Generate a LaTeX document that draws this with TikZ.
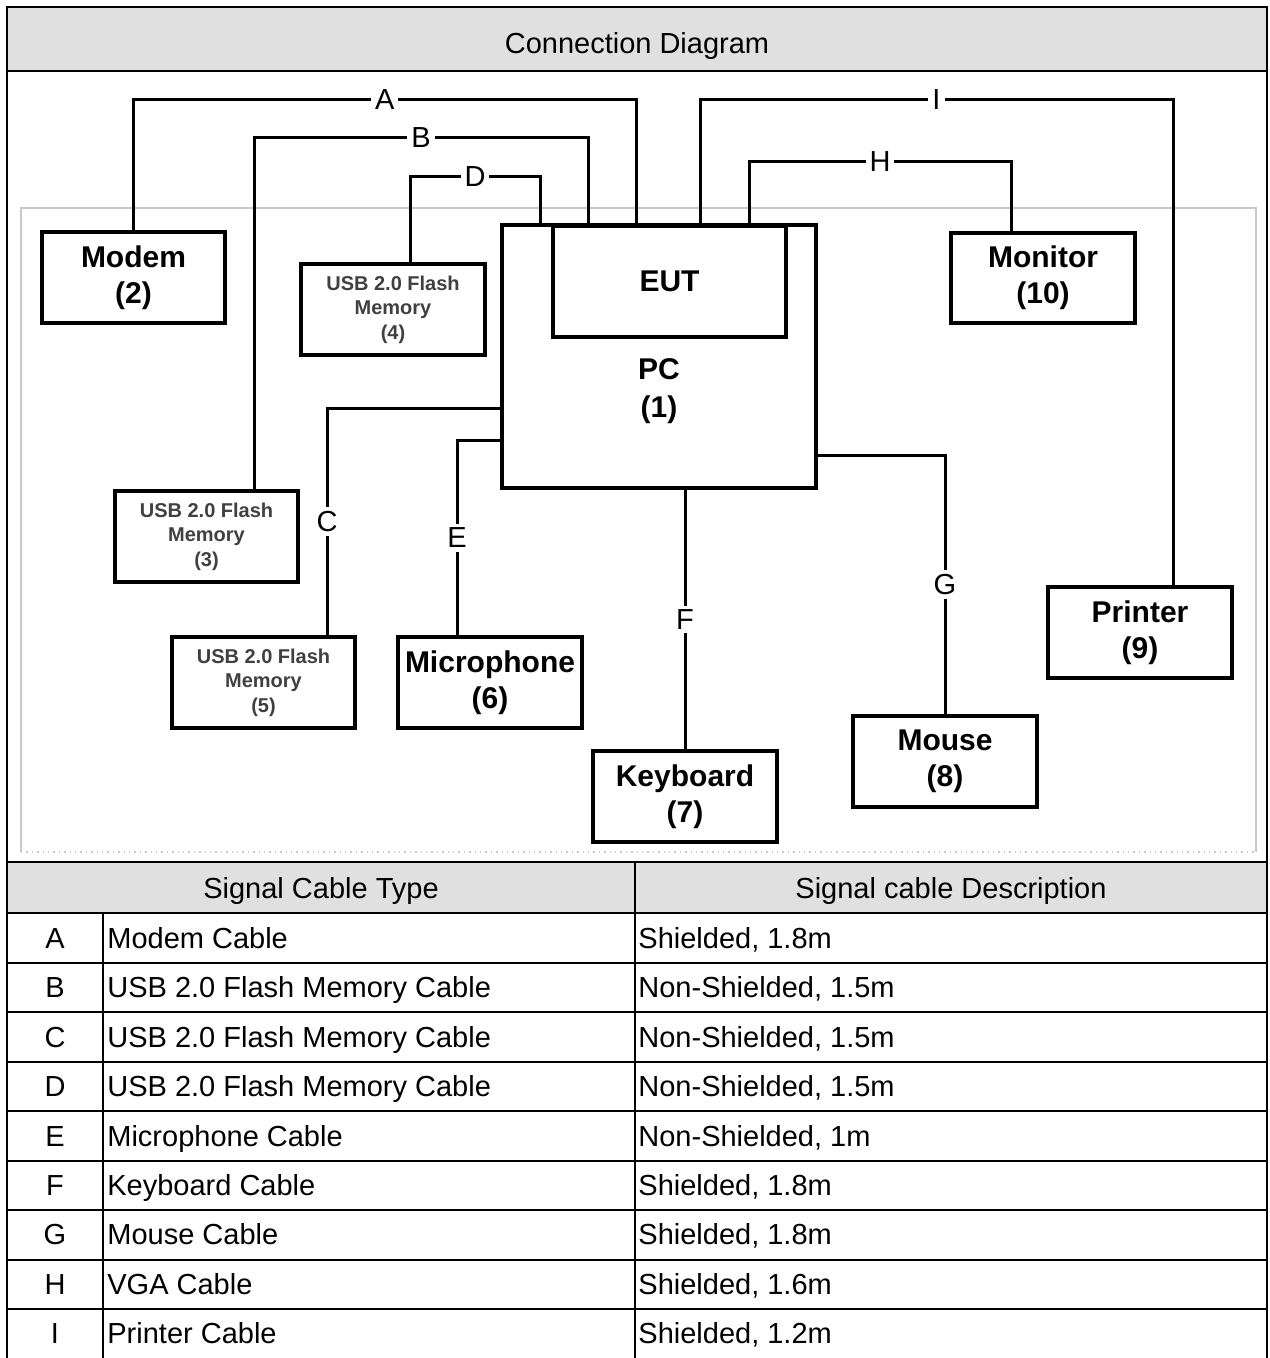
\documentclass[tikz,border=0pt]{standalone}
\usepackage{fontspec}
\setmainfont{Liberation Sans}
\definecolor{hdr}{HTML}{E0E0E0}
\definecolor{innerframe}{HTML}{C8C8C8}
\definecolor{usbtext}{HTML}{404040}
\begin{document}
\begin{tikzpicture}[x=0.5pt,y=-0.5pt,
  dev/.style={draw=black, line width=1.9pt, fill=white, inner sep=0pt, align=center,
    minimum width=92pt, minimum height=45.5pt,
    font=\fontsize{15}{18}\selectfont\bfseries},
  usb/.style={dev, text=usbtext, font=\fontsize{10}{12.25}\selectfont\bfseries},
  wire/.style={line width=1.5pt, draw=black},
  lab/.style={fill=white, inner sep=2pt, font=\fontsize{14.5}{16}\selectfont},
  tline/.style={line width=1pt, draw=black},
  ttext/.style={font=\fontsize{14.5}{16}\selectfont, inner sep=0pt, anchor=base},
  ttextw/.style={ttext, anchor=base west}]
\useasboundingbox (0,0) rectangle (1269,1358);
% title band and header band
\fill[hdr] (7,7) rectangle (1267,71);
\fill[hdr] (7,862) rectangle (1267,913);
\node[ttext] (title) at (637,54) {Connection Diagram};
% inner light frame
\draw[innerframe, line width=0.7pt] (21,852) -- (21,208) -- (1256,208) -- (1256,852);
\draw[innerframe, line width=0.7pt, dotted] (21,852) -- (1256,852);
% devices
\node[dev, minimum width=157pt, minimum height=131.5pt] (pc) at (659,356.5) {};
\node[dev, minimum width=116.5pt, minimum height=55.5pt] (eut) at (669.5,281.5) {EUT};
\node[inner sep=0pt, align=center, font=\fontsize{15}{19}\selectfont\bfseries] (pct) at (659,391) {PC\\(1)};
\node[dev, minimum width=91.5pt] (modem) at (133.5,277.5) {Modem\\(2)};
\node[usb] (usb4) at (393,309.5) {USB 2.0 Flash\\Memory\\(4)};
\node[dev, minimum height=45pt] (monitor) at (1043,278) {Monitor\\(10)};
\node[usb, minimum width=91.5pt] (usb3) at (206.5,536.5) {USB 2.0 Flash\\Memory\\(3)};
\node[usb, minimum width=91.5pt] (usb5) at (263.5,682.5) {USB 2.0 Flash\\Memory\\(5)};
\node[dev] (mic) at (490,682.5) {Microphone\\(6)};
\node[dev] (kbd) at (685,796.5) {Keyboard\\(7)};
\node[dev] (mouse) at (945,761.5) {Mouse\\(8)};
\node[dev] (printer) at (1140,632.5) {Printer\\(9)};
% routing points
\coordinate (a2) at (636,100);
\coordinate (b1) at (254,138);
\coordinate (b2) at (588,138);
\coordinate (d1) at (410,177);
\coordinate (d2) at (540,177);
\coordinate (i1) at (700,100);
\coordinate (i2) at (1173,100);
\coordinate (h1) at (749,162);
\coordinate (h2) at (1011,162);
\coordinate (c1) at (327,408);
\coordinate (e1) at (457,440);
\coordinate (g1) at (944,455);
% cables
\draw[wire] (modem.north) |- node[lab,pos=0.75]{A} (a2) -- (a2 |- pc.north);
\draw[wire] (usb3.north -| b1) |- node[lab,pos=0.75]{B} (b2) -- (b2 |- pc.north);
\draw[wire] (usb4.north -| d1) |- node[lab,pos=0.75]{D} (d2) -- (d2 |- pc.north);
\draw[wire] (i1 |- pc.north) |- node[lab,pos=0.75]{I} (i2) -- (i2 |- printer.north);
\draw[wire] (h1 |- pc.north) |- node[lab,pos=0.75]{H} (h2) -- (h2 |- monitor.north);
\draw[wire] (pc.west |- c1) -| node[lab,pos=0.75]{C} (usb5.north -| c1);
\draw[wire] (pc.west |- e1) -| node[lab,pos=0.75]{E} (mic.north -| e1);
\draw[wire] (kbd.north |- pc.south) -- node[lab]{F} (kbd.north);
\draw[wire] (pc.east |- g1) -| node[lab,pos=0.75]{G} (mouse.north);
% table frame
\draw[tline] (7,1359) -- (7,7) -- (1267,7) -- (1267,1359);
\foreach \yy in {71,862,913,963,1012,1062,1111,1161,1210,1260,1309}
  \draw[tline] (7,\yy) -- (1267,\yy);
\draw[tline] (103,913) -- (103,1359);
\draw[tline] (635,862) -- (635,1359);
\node[ttext] (h1t) at (321,898.5) {Signal Cable Type};
\node[ttext] (h2t) at (951,898.5) {Signal cable Description};
\foreach \k/\l/\t/\d [count=\n] in {
  A/A/Modem Cable/{Shielded, 1.8m},
  B/B/USB 2.0 Flash Memory Cable/{Non-Shielded, 1.5m},
  C/C/USB 2.0 Flash Memory Cable/{Non-Shielded, 1.5m},
  D/D/USB 2.0 Flash Memory Cable/{Non-Shielded, 1.5m},
  E/E/Microphone Cable/{Non-Shielded, 1m},
  F/F/Keyboard Cable/{Shielded, 1.8m},
  G/G/Mouse Cable/{Shielded, 1.8m},
  H/H/VGA Cable/{Shielded, 1.6m},
  I/I/Printer Cable/{Shielded, 1.2m}} {
  \pgfmathsetmacro{\yc}{913+49.4*(\n-1)+35.5}
  \node[ttext] (tk\k) at (55,\yc) {\l};
  \node[ttextw] (tt\k) at (107,\yc) {\t};
  \node[ttextw] (td\k) at (638,\yc) {\d};
}
\end{tikzpicture}
\end{document}
